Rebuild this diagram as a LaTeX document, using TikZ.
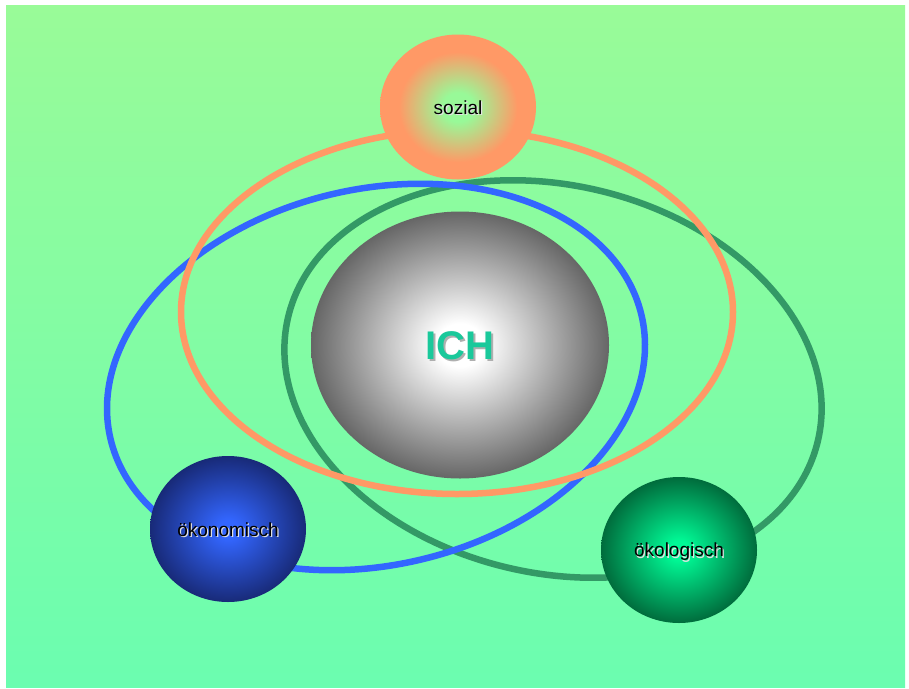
\documentclass[tikz,border=0pt]{standalone}
\usepackage{fontspec}
\setmainfont{Liberation Sans}
\usetikzlibrary{shapes.geometric}

\definecolor{bgtop}{RGB}{153,251,152}
\definecolor{bgbot}{RGB}{107,253,176}
\definecolor{orbitorange}{RGB}{255,153,102}
\definecolor{orbitblue}{RGB}{51,102,255}
\definecolor{orbitgreen}{RGB}{51,153,102}
\definecolor{sozcenter}{RGB}{152,249,152}
\definecolor{sozedge}{RGB}{255,153,102}
\definecolor{ichcenter}{RGB}{255,255,255}
\definecolor{ichedge}{RGB}{102,102,102}
\definecolor{oekocenter}{RGB}{51,102,255}
\definecolor{oekoedge}{RGB}{24,42,120}
\definecolor{oekolcenter}{RGB}{0,250,150}
\definecolor{oekoledge}{RGB}{0,108,60}
\definecolor{ichtext}{RGB}{26,201,155}
\definecolor{ichshadow}{RGB}{175,175,175}
\definecolor{labelshadow}{RGB}{225,225,225}

\pgfdeclareradialshading{sozshade}{\pgfpoint{0bp}{0bp}}{%
  color(0bp)=(sozcenter); color(5bp)=(sozcenter);
  color(19bp)=(sozedge); color(25bp)=(sozedge); color(50bp)=(sozedge)}
\pgfdeclareradialshading{ichshade}{\pgfpoint{0bp}{0bp}}{%
  color(0bp)=(ichcenter); color(4bp)=(ichcenter);
  color(25bp)=(ichedge); color(50bp)=(ichedge)}
\pgfdeclareradialshading{oekoshade}{\pgfpoint{0bp}{0bp}}{%
  color(0bp)=(oekocenter); color(3bp)=(oekocenter);
  color(25bp)=(oekoedge); color(50bp)=(oekoedge)}
\pgfdeclareradialshading{oekolshade}{\pgfpoint{0bp}{0bp}}{%
  color(0bp)=(oekolcenter); color(3bp)=(oekolcenter);
  color(25bp)=(oekoledge); color(50bp)=(oekoledge)}

% text with a drop shadow set behind it, as one box
\newcommand{\shadowed}[3]{%
  \rlap{\kern#2\raisebox{-#2}{\color{#1}#3}}#3}

\tikzset{
  orbit/.style={line width=6.5pt},
  sphere/.style={ellipse, inner sep=0pt, minimum width=156pt, minimum height=146pt},
  label text/.style={font=\fontsize{19}{19}\selectfont, text=black},
}

\begin{document}
\begin{tikzpicture}[x=1pt, y=-1pt]
  % canvas
  \useasboundingbox (0,0) rectangle (909,688);
  \fill[white] (0,0) rectangle (909,688);
  \shade[top color=bgtop, bottom color=bgbot] (6,5) rectangle (905,687);

  % orbits
  \draw[orbit, orbitgreen, rotate around={-13:(553,379)}]
    (553,379) ellipse [x radius=272, y radius=194];
  \draw[orbit, orbitblue, rotate around={13:(376,377)}]
    (376,377) ellipse [x radius=272.6, y radius=188];
  \draw[orbit, orbitorange] (457,312) ellipse [x radius=276, y radius=182];

  % central sphere
  \node[ellipse, inner sep=0pt, minimum width=298pt, minimum height=267pt,
        shading=ichshade] (ich) at (460,345) {};
  \node[font=\bfseries\fontsize{40}{40}\selectfont, text=ichtext] (ichlabel)
    at ([yshift=-2pt]ich.center) {\shadowed{ichshadow}{1.6pt}{ICH}};

  % outer spheres
  \node[sphere, minimum width=156pt, minimum height=145pt, shading=sozshade]
    (sozial) at (458,107) {};
  \node[sphere, shading=oekoshade] (oeko) at (228,529) {};
  \node[sphere, shading=oekolshade] (oekol) at (679,550) {};

  % sphere labels
  \node[label text] (sozlabel) at ([yshift=-1.5pt]sozial.center)
    {\shadowed{labelshadow}{1.3pt}{sozial}};
  \node[label text] (oekolabel) at ([yshift=-1.5pt]oeko.center)
    {\shadowed{labelshadow}{1.3pt}{ökonomisch}};
  \node[label text] (oekollabel) at ([yshift=-2.5pt]oekol.center)
    {\shadowed{labelshadow}{1.3pt}{ökologisch}};
\end{tikzpicture}
\end{document}
